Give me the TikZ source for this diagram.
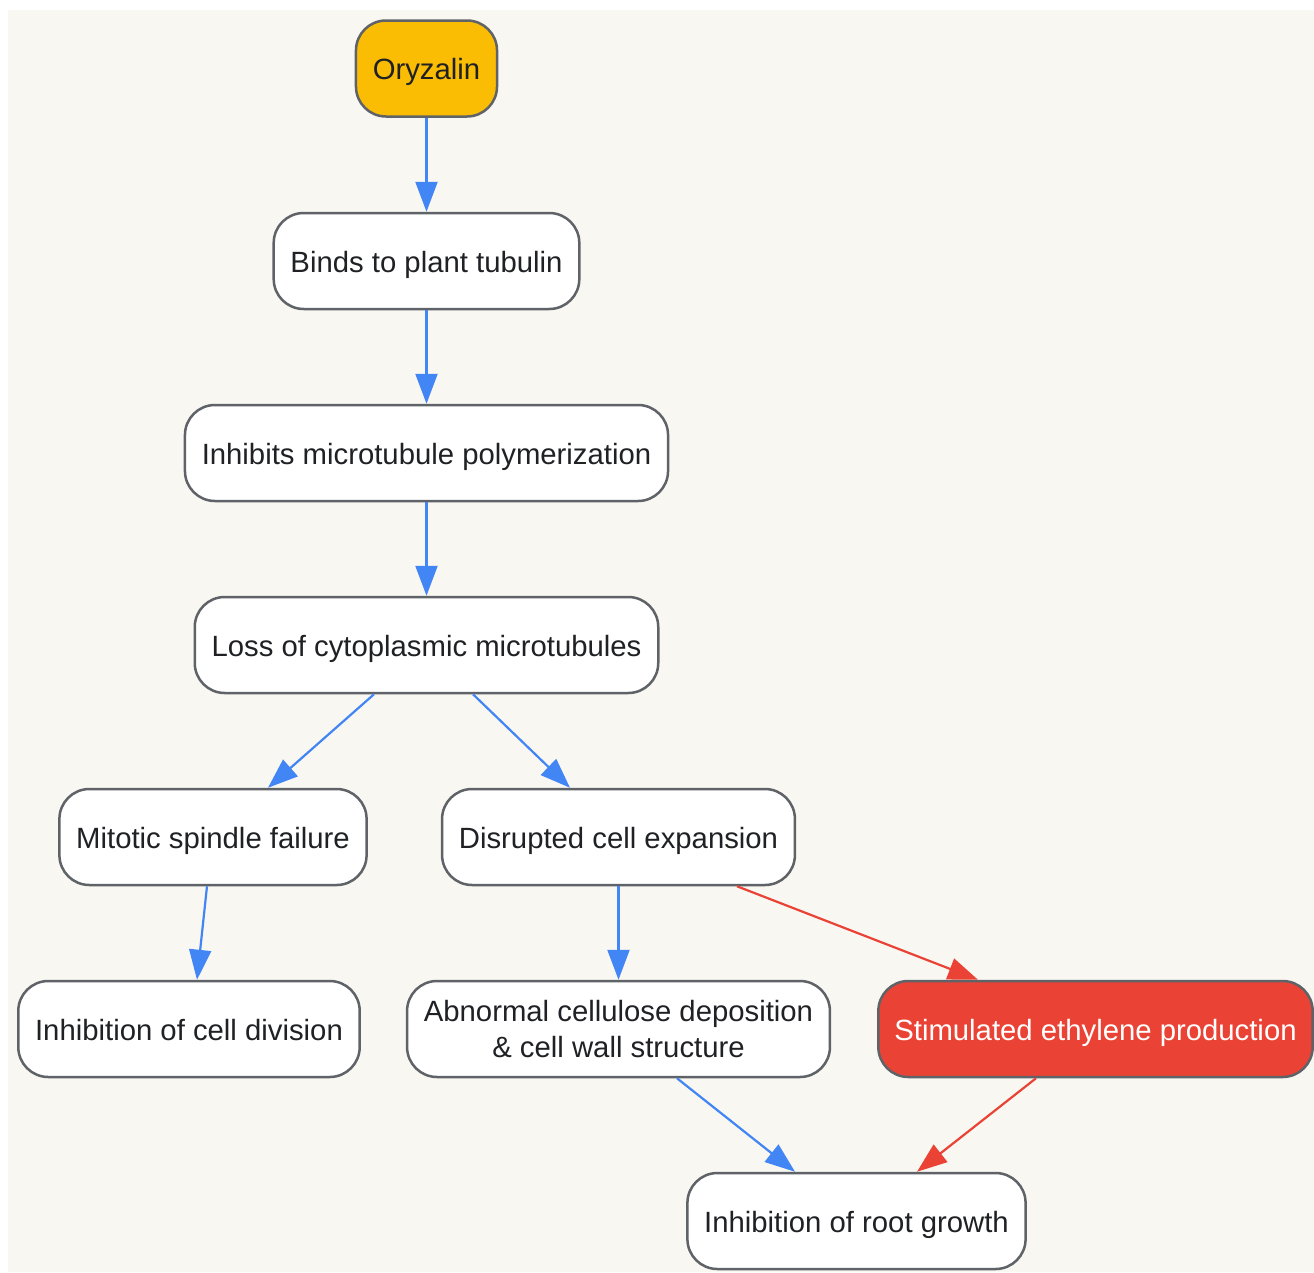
\documentclass[tikz,border=0pt]{standalone}
\usepackage{fontspec}
\setmainfont{Liberation Sans}
\usetikzlibrary{arrows.meta}
\definecolor{bgc}{HTML}{F8F7F2}
\definecolor{edgeg}{HTML}{5F6368}
\definecolor{txt}{HTML}{202124}
\definecolor{gblue}{HTML}{4285F4}
\definecolor{gred}{HTML}{EA4335}
\definecolor{gyellow}{HTML}{FBBC04}
\tikzset{
  box/.style={draw=edgeg, line width=2.5pt, fill=white, rounded corners=30pt,
    minimum height=96pt, inner xsep=16.8pt, inner ysep=6pt, align=center,
    text=txt, font=\fontsize{29.3}{36}\selectfont},
  oneline/.style={text height=22pt, text depth=0pt},
  arr/.style={draw=gblue, line width=2.2pt, -{Triangle[length=30pt,width=22pt]}},
  rarr/.style={draw=gred, line width=2.2pt, -{Triangle[length=30pt,width=22pt]}},
}
\begin{document}
\begin{tikzpicture}[x=1pt,y=-1pt]
\useasboundingbox (0,0) rectangle (1314,1272);
\fill[bgc] (8,10) rectangle (1314,1272);
\node[box, oneline, fill=gyellow] (ory) at (426.5,68.5) {Oryzalin};
\node[box, oneline] (binds) at (426.5,261) {Binds to plant tubulin};
\node[box, oneline] (inhib) at (426.5,453) {Inhibits microtubule polymerization};
\node[box, oneline] (loss) at (426.5,645) {Loss of cytoplasmic microtubules};
\node[box, oneline] (mito) at (213,837) {Mitotic spindle failure};
\node[box, oneline] (disr) at (618.5,837) {Disrupted cell expansion};
\node[box, oneline] (icd) at (189,1029) {Inhibition of cell division};
\node[box] (abn) at (618.5,1029) {Abnormal cellulose deposition\\\& cell wall structure};
\node[box, oneline, fill=gred, text=white, inner xsep=16pt] (stim) at (1095.5,1029) {Stimulated ethylene production};
\node[box, oneline] (root) at (856.5,1221) {Inhibition of root growth};
\draw[arr] (ory.south) -- (binds.north);
\draw[arr] (binds.south) -- (inhib.north);
\draw[arr] (inhib.south) -- (loss.north);
\draw[arr] ([xshift=-52.5pt]loss.south) -- ([xshift=55pt]mito.north);
\draw[arr] ([xshift=46.5pt]loss.south) -- ([xshift=-48.5pt]disr.north);
\draw[arr] ([xshift=-6pt]mito.south) -- ([xshift=8pt]icd.north);
\draw[arr] (disr.south) -- (abn.north);
\draw[rarr] ([xshift=118.5pt]disr.south) -- ([xshift=-117.5pt]stim.north);
\draw[arr] ([xshift=58.5pt]abn.south) -- ([xshift=-61.5pt]root.north);
\draw[rarr] ([xshift=-59.5pt]stim.south) -- ([xshift=60.5pt]root.north);
\end{tikzpicture}
\end{document}
